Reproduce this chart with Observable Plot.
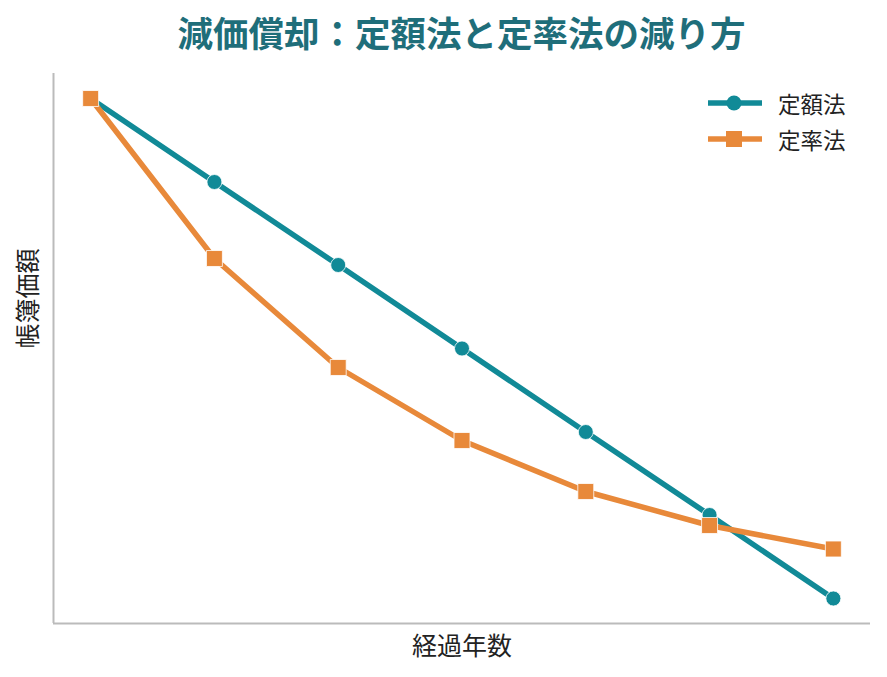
<!DOCTYPE html>
<html><head><meta charset="utf-8">
<script src="https://cdn.jsdelivr.net/npm/d3@7"></script>
<script src="https://cdn.jsdelivr.net/npm/@observablehq/plot@0.6"></script>
<style>
body{margin:0;background:#fff;font-family:"Noto Sans CJK JP","Noto Sans",sans-serif;}
#wrap{position:relative;width:887px;height:677px;}
#title{height:64px;padding-left:36px;line-height:63px;text-align:center;font-size:35.5px;font-weight:bold;color:#1f6e7a;}
#legend{position:absolute;left:708px;top:85px;font-size:22.5px;color:#222;}
.row{display:flex;align-items:center;height:36px;}
.row svg{margin-right:16px;}
</style></head><body>
<div id="wrap">
<div id="title">減価償却：定額法と定率法の減り方</div>
<div id="chart"></div>
<div id="legend"></div>
</div>
<script>
const years = [0,1,2,3,4,5,6];
const straightLine = [100, 83.3, 66.7, 50.0, 33.3, 16.7, 0];
const decliningBalance = [100, 68.0, 46.2, 31.6, 21.4, 14.6, 9.9];
const seriesNames = ["定額法", "定率法"];
const colors = ["#118a97", "#e8893a"];

const sl = years.map((x,i)=>({x, y: straightLine[i]}));
const db = years.map((x,i)=>({x, y: decliningBalance[i]}));

const plot = Plot.plot({
  width: 887, height: 613,
  marginLeft: 53, marginRight: 17, marginTop: 9, marginBottom: 54,
  x: {domain: [-0.3, 6.3], axis: null},
  y: {domain: [-5, 105], axis: null},
  style: {fontFamily: '"Noto Sans CJK JP", sans-serif'},
  marks: [
    Plot.ruleX([-0.3], {stroke: "#bbbbbb", strokeWidth: 2}),
    Plot.ruleY([-5], {stroke: "#bbbbbb", strokeWidth: 2}),
    Plot.line(sl, {x: "x", y: "y", stroke: colors[0], strokeWidth: 5.5}),
    Plot.dot(sl, {x: "x", y: "y", fill: colors[0], r: 7.5, symbol: "circle", stroke: "white", strokeWidth: 0.8}),
    Plot.line(db, {x: "x", y: "y", stroke: colors[1], strokeWidth: 5.5}),
    Plot.dot(db, {x: "x", y: "y", fill: colors[1], r: 9, symbol: "square", stroke: "white", strokeWidth: 0.8}),
    Plot.text(["経過年数"], {frameAnchor: "bottom", dy: 31, fontSize: 25, fill: "#222"}),
    Plot.text(["帳簿価額"], {frameAnchor: "left", dx: -25, rotate: -90, fontSize: 25, fill: "#222"})
  ]
});
document.getElementById("chart").appendChild(plot);

const leg = document.getElementById("legend");
seriesNames.forEach((name, i) => {
  const row = document.createElement("div");
  row.className = "row";
  const marker = i === 0
    ? `<circle cx="26" cy="8" r="7.5" fill="${colors[i]}"/>`
    : `<rect x="18" y="0" width="16" height="16" fill="${colors[i]}"/>`;
  row.innerHTML = `<svg width="54" height="16"><line x1="0" x2="54" y1="8" y2="8" stroke="${colors[i]}" stroke-width="5.5"/>${marker}</svg><span>${name}</span>`;
  leg.appendChild(row);
});
</script>
</body></html>
